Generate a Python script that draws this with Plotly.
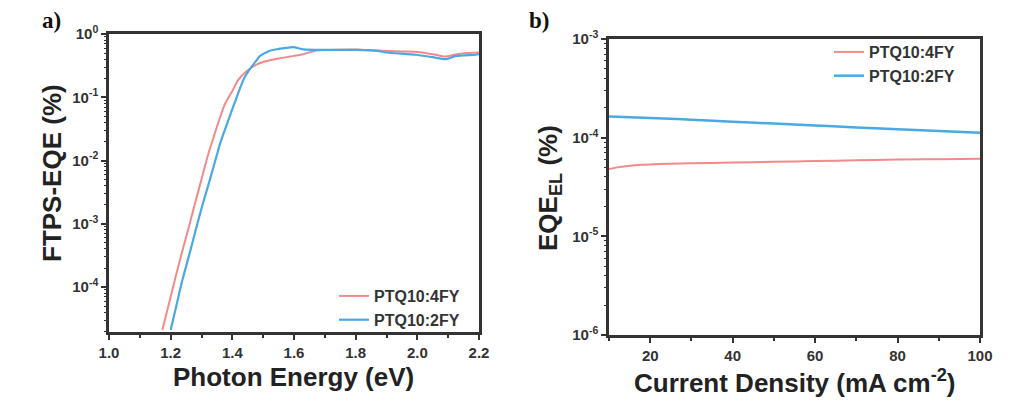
import plotly.graph_objects as go

# panel a: FTPS-EQE vs photon energy
energy_4fy = [1.173, 1.195, 1.216, 1.237, 1.259, 1.28, 1.302, 1.32, 1.340, 1.358, 1.377, 1.40,
              1.420, 1.447, 1.474, 1.50, 1.55, 1.587, 1.63, 1.673, 1.72, 1.80, 1.87, 1.95,
              2.00, 2.05, 2.09, 2.12, 2.16, 2.20]
eqe_4fy = [2.1e-5, 5.6e-5, 1.45e-4, 3.6e-4, 8.9e-4, 2.2e-3, 5.5e-3, 0.0117, 0.024, 0.045, 0.080,
           0.126, 0.19, 0.26, 0.32, 0.36, 0.41, 0.44, 0.48, 0.55, 0.56, 0.57, 0.55, 0.53,
           0.52, 0.48, 0.44, 0.47, 0.50, 0.51]

energy_2fy = [1.20, 1.219, 1.238, 1.26, 1.281, 1.302, 1.324, 1.343, 1.361, 1.38, 1.399, 1.418,
              1.436, 1.455, 1.474, 1.49, 1.52, 1.544, 1.57, 1.598, 1.63, 1.70, 1.80, 1.87,
              1.90, 1.996, 2.05, 2.093, 2.125, 2.19, 2.20]
eqe_2fy = [2.1e-5, 5.2e-5, 1.29e-4, 3.2e-4, 7.9e-4, 1.9e-3, 4.4e-3, 9.3e-3, 0.019, 0.035, 0.063,
           0.112, 0.19, 0.27, 0.36, 0.45, 0.54, 0.575, 0.60, 0.62, 0.57, 0.56, 0.56, 0.54,
           0.51, 0.47, 0.43, 0.40, 0.45, 0.47, 0.48]

# panel b: EQE_EL vs current density
current = [10, 12, 15, 20, 30, 40, 50, 60, 70, 80, 90, 100]
eqe_el_4fy = [4.8e-5, 5.0e-5, 5.2e-5, 5.35e-5, 5.5e-5, 5.6e-5, 5.7e-5, 5.8e-5, 5.9e-5, 6.0e-5,
              6.05e-5, 6.1e-5]
eqe_el_2fy = [1.64e-4, 1.63e-4, 1.61e-4, 1.58e-4, 1.52e-4, 1.45e-4, 1.39e-4, 1.33e-4, 1.27e-4,
              1.22e-4, 1.17e-4, 1.12e-4]

ticks_a = [1, 0.1, 0.01, 0.001, 0.0001]
labels_a = ["10<sup>0</sup>", "10<sup>-1</sup>", "10<sup>-2</sup>", "10<sup>-3</sup>", "10<sup>-4</sup>"]
ticks_b = [1e-3, 1e-4, 1e-5, 1e-6]
labels_b = ["10<sup>-3</sup>", "10<sup>-4</sup>", "10<sup>-5</sup>", "10<sup>-6</sup>"]

RED = "#F28A8C"
BLUE = "#4AA8E4"
AX = "#333333"

fig = go.Figure()
fig.add_trace(go.Scatter(x=energy_4fy, y=eqe_4fy, mode="lines", name="PTQ10:4FY",
                         line=dict(color=RED, width=2, shape="spline", smoothing=0.6),
                         xaxis="x", yaxis="y", legend="legend"))
fig.add_trace(go.Scatter(x=energy_2fy, y=eqe_2fy, mode="lines", name="PTQ10:2FY",
                         line=dict(color=BLUE, width=2.2, shape="spline", smoothing=0.6),
                         xaxis="x", yaxis="y", legend="legend"))
fig.add_trace(go.Scatter(x=current, y=eqe_el_4fy, mode="lines", name="PTQ10:4FY",
                         line=dict(color=RED, width=2, shape="spline"),
                         xaxis="x2", yaxis="y2", legend="legend2"))
fig.add_trace(go.Scatter(x=current, y=eqe_el_2fy, mode="lines", name="PTQ10:2FY",
                         line=dict(color=BLUE, width=2.5, shape="spline"),
                         xaxis="x2", yaxis="y2", legend="legend2"))

tickfont = dict(family="Arial", size=15, color=AX, weight="bold")
common = dict(showline=True, linewidth=2.5, linecolor=AX, mirror=True, showgrid=False,
              zeroline=False, ticks="outside", ticklen=5, tickwidth=1.5, tickcolor=AX,
              tickfont=tickfont, automargin=False)

minor_log = dict(ticks="outside", ticklen=2, tickwidth=1, tickcolor=AX, showgrid=False)
legend_font = dict(family="Arial", size=16, color=AX, weight="bold")

fig.update_layout(
    width=1024, height=411,
    margin=dict(l=0, r=0, t=0, b=0),
    paper_bgcolor="white", plot_bgcolor="white",
    font=dict(family="Arial", color="#222222"),
    xaxis=dict(domain=[109 / 1024, 479 / 1024], range=[1.0, 2.2], dtick=0.2, tickformat=".1f",
               anchor="y", minor=dict(dtick=0.1, ticks="outside", ticklen=3, tickcolor=AX),
               **common),
    yaxis=dict(domain=[1 - 332 / 411, 1 - 34 / 411], type="log", range=[-4.71, 0],
               tickvals=ticks_a, ticktext=labels_a, anchor="x",
               minor=dict(dtick="D1", **minor_log), **common),
    xaxis2=dict(domain=[609 / 1024, 980 / 1024], range=[10, 100], tickvals=[20, 40, 60, 80, 100],
                anchor="y2", minor=dict(dtick=10, ticks="outside", ticklen=3, tickcolor=AX),
                **common),
    yaxis2=dict(domain=[1 - 335 / 411, 1 - 39 / 411], type="log", range=[-6, -3],
                tickvals=ticks_b, ticktext=labels_b, anchor="x2",
                minor=dict(dtick="D1", **minor_log), **common),
    legend=dict(x=334 / 1024, y=1 - 279 / 411, xanchor="left", yanchor="top",
                bgcolor="rgba(0,0,0,0)", font=legend_font, tracegroupgap=0, itemwidth=30),
    legend2=dict(x=829 / 1024, y=1 - 35 / 411, xanchor="left", yanchor="top",
                 bgcolor="rgba(0,0,0,0)", font=legend_font, tracegroupgap=0, itemwidth=30),
    showlegend=True,
)

title_font = dict(family="Arial", size=26, color="#222222", weight="bold")
annotations = [
    dict(text="FTPS-EQE (%)", x=52 / 1024, y=1 - 173 / 411, textangle=-90),
    dict(text="Photon Energy (eV)", x=293 / 1024, y=1 - 377 / 411),
    dict(text="EQE<sub>EL</sub> (%)", x=549 / 1024, y=1 - 188 / 411, textangle=-90),
    dict(text="Current Density (mA cm<sup>-2</sup>)", x=795 / 1024, y=1 - 381 / 411),
]
for a in annotations:
    fig.add_annotation(xref="paper", yref="paper", showarrow=False, font=title_font,
                       xanchor="center", yanchor="middle", **a)

panel_font = dict(family="Liberation Serif, Times New Roman", size=23, color="#111111",
                  weight="bold")
fig.add_annotation(text="a)", x=40 / 1024, y=1 - 20 / 411, xref="paper", yref="paper",
                   showarrow=False, font=panel_font, xanchor="left", yanchor="middle")
fig.add_annotation(text="b)", x=527 / 1024, y=1 - 20 / 411, xref="paper", yref="paper",
                   showarrow=False, font=panel_font, xanchor="left", yanchor="middle")

# drop the browser's default page margin so the figure sits at the window origin
fig.write_html("out.html", config={"displayModeBar": False},
               post_script="document.body.style.margin='0px';")
